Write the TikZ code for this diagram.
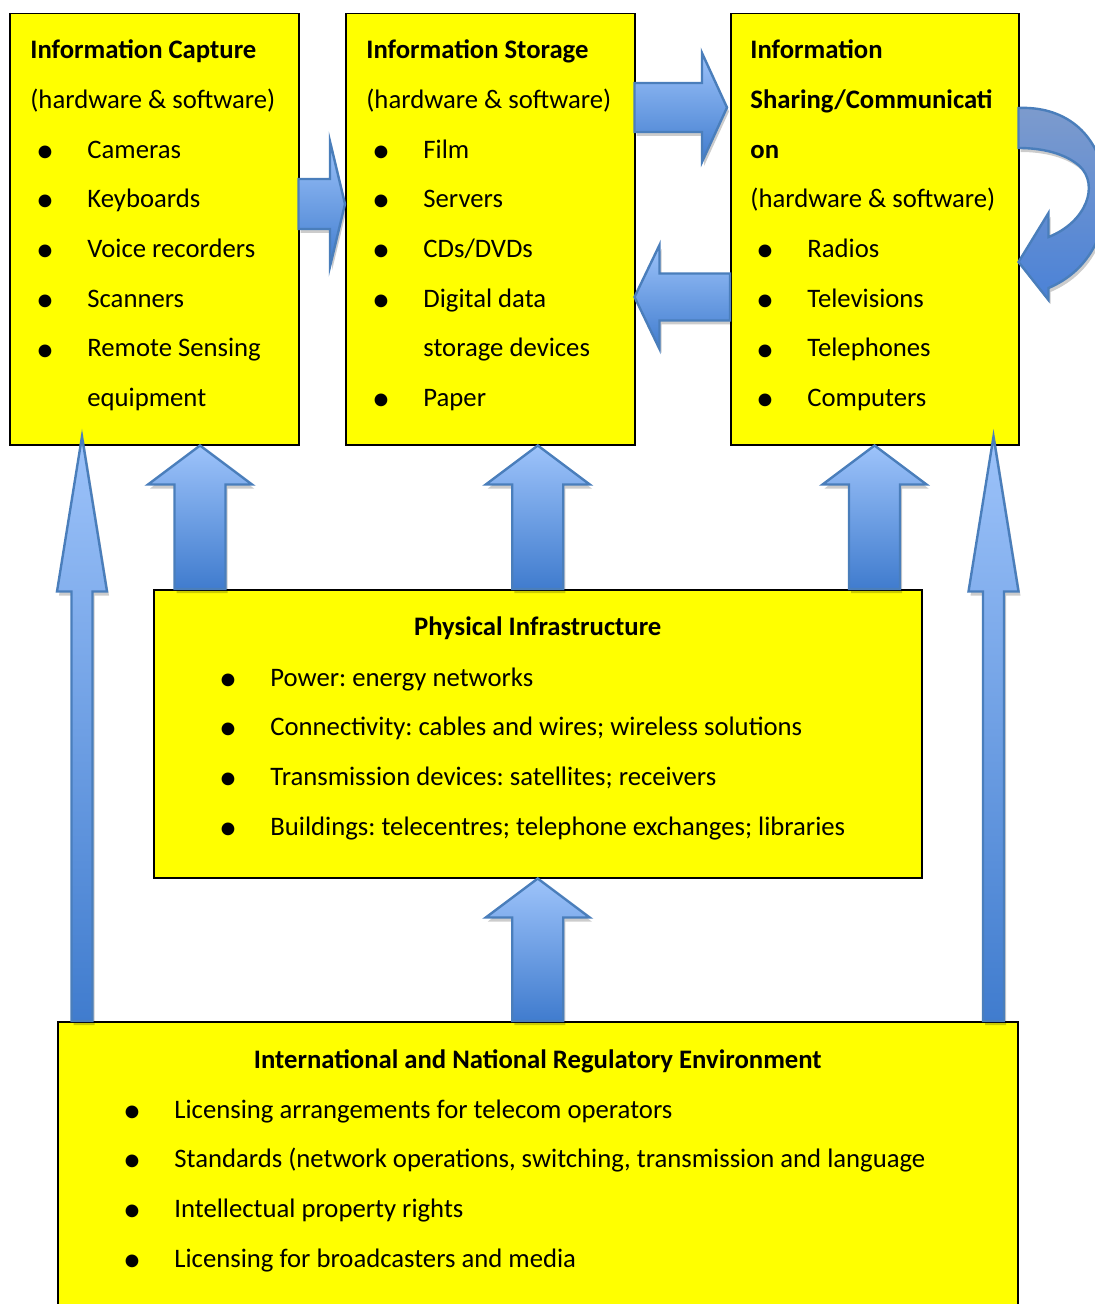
\documentclass[tikz,border=0pt]{standalone}
\usepackage{fontspec}
\setmainfont{Carlito}
\usetikzlibrary{calc,shadows}

\definecolor{boxyellow}{RGB}{255,255,0}
\definecolor{arrowline}{RGB}{74,126,187}
\definecolor{arrowtop}{RGB}{157,195,250}
\definecolor{arrowbottom}{RGB}{64,124,206}
\definecolor{looptop}{RGB}{125,155,205}
\definecolor{loopbottom}{RGB}{75,130,215}

\newcommand{\bul}{\makebox[28.5pt][l]{\hspace{2.8pt}{\fontsize{18}{18}\selectfont\raisebox{-2.1pt}{\textbullet}}}}
\newcommand{\nobul}{\hspace*{28.5pt}}

% block arrow: tip, tail, half shaft, half head, head length
\newcommand{\shapearrow}[5]{%
  \coordinate (hb) at ($(#1)!#5!(#2)$);
  \path[blockarrow] (#1) -- ($(hb)!#4!90:(#1)$) -- ($(hb)!#3!90:(#1)$)
    -- ($(#2)!#3!90:(hb)$) -- ($(#2)!#3!-90:(hb)$)
    -- ($(hb)!#3!-90:(#1)$) -- ($(hb)!#4!-90:(#1)$) -- cycle;}

\begin{document}
\frenchspacing
\begin{tikzpicture}[x=0.5pt,y=-0.5pt,
    infobox/.style={draw, line width=0.75pt, fill=boxyellow, anchor=north west, inner sep=0pt},
    boxtext/.style={anchor=base west, inner sep=0pt, font=\fontsize{13.35}{24.85}\selectfont},
    boxtitle/.style={anchor=base, inner sep=0pt, font=\fontsize{13.35}{24.85}\selectfont\bfseries},
    blockarrow/.style={draw=arrowline, line width=1.2pt, top color=arrowtop, bottom color=arrowbottom,
      drop shadow={shadow xshift=1pt, shadow yshift=-2pt, opacity=0.2, fill=black}}]
    \useasboundingbox (0,0) rectangle (1094,1304);

    % Boxes
    \node[infobox, minimum width=144.5pt, minimum height=215.5pt] (capture) at (9,13) {};
    \node[infobox, minimum width=144.5pt, minimum height=215.5pt] (storage) at (345,13) {};
    \node[infobox, minimum width=144pt, minimum height=215.5pt] (sharing) at (730,13) {};
    \node[infobox, minimum width=384pt, minimum height=144pt] (physical) at (153,589) {};
    \node[infobox, minimum width=480pt, minimum height=150pt] (regulatory) at (57,1021) {};

    % Box texts
    \node[boxtext] (capturetext) at ($(capture.north west)+(21,45.7)$) {\begin{tabular}[t]{@{}l@{}}
      \textbf{Information Capture}\\ (hardware \& software)\\ \bul Cameras\\ \bul Keyboards\\
      \bul Voice recorders\\ \bul Scanners\\ \bul Remote Sensing\\ \nobul equipment\end{tabular}};
    \node[boxtext] (storagetext) at ($(storage.north west)+(21,45.7)$) {\begin{tabular}[t]{@{}l@{}}
      \textbf{Information Storage}\\ (hardware \& software)\\ \bul Film\\ \bul Servers\\
      \bul CDs/DVDs\\ \bul Digital data\\ \nobul storage devices\\ \bul Paper\end{tabular}};
    \node[boxtext] (sharingtext) at ($(sharing.north west)+(20,45.7)$) {\begin{tabular}[t]{@{}l@{}}
      \textbf{Information}\\ \textbf{Sharing/Communicati}\\ \textbf{on}\\ (hardware \& software)\\
      \bul Radios\\ \bul Televisions\\ \bul Telephones\\ \bul Computers\end{tabular}};

    \node[boxtitle] (physicaltitle) at ($(physical.north)+(0,46)$) {Physical Infrastructure};
    \node[boxtext] (physicallist) at ($(physical.north west)+(60,97)$) {\begin{tabular}[t]{@{}l@{}}
      \bul Power: energy networks\\ \bul Connectivity: cables and wires; wireless solutions\\
      \bul Transmission devices: satellites; receivers\\
      \bul Buildings: telecentres; telephone exchanges; libraries\end{tabular}};

    \node[boxtitle] (regulatorytitle) at ($(regulatory.north)+(0,47)$) {International and National Regulatory Environment};
    \node[boxtext] (regulatorylist) at ($(regulatory.north west)+(60,97)$) {\begin{tabular}[t]{@{}l@{}}
      \bul Licensing arrangements for telecom operators\\
      \bul Standards (network operations, switching, transmission and language\\
      \bul Intellectual property rights\\ \bul Licensing for broadcasters and media\end{tabular}};

    % Side arrows between the top boxes
    \coordinate (capright) at ($(capture.north east)+(-1,191)$);
    \coordinate (storleft) at ($(storage.north west)+(0,191)$);
    \coordinate (storright) at ($(storage.north east)+(-1,94.5)$);
    \coordinate (sharleft) at ($(sharing.north west)+(-3,94.5)$);
    \coordinate (storback) at ($(storage.north east)+(-1,284)$);
    \coordinate (sharback) at ($(sharing.north west)+(0,284)$);
    \shapearrow{storleft}{capright}{12.5pt}{31.25pt}{7.5pt}
    \shapearrow{sharleft}{storright}{12.25pt}{27.25pt}{12.5pt}
    \shapearrow{storback}{sharback}{11.75pt}{26pt}{12.5pt}

    % Up arrows from the infrastructure
    \coordinate (physleft) at ($(physical.north west)+(47,0)$);
    \coordinate (physright) at ($(physical.north east)+(-48,0)$);
    \shapearrow{capture.south -| physleft}{physleft}{12.75pt}{26pt}{19.5pt}
    \shapearrow{storage.south -| physical.north}{physical.north}{12.75pt}{26pt}{19.5pt}
    \shapearrow{sharing.south -| physright}{physright}{12.75pt}{26pt}{19.5pt}
    \shapearrow{physical.south}{regulatory.north}{12.75pt}{26pt}{19.5pt}

    % Long arrows from the regulatory box
    \coordinate (regleft) at ($(regulatory.north west)+(25,0)$);
    \coordinate (regright) at ($(regulatory.north east)+(-25,0)$);
    \coordinate (captip) at ($(capture.south -| regleft)+(0,-9)$);
    \coordinate (shartip) at ($(sharing.south -| regright)+(0,-9)$);
    \shapearrow{captip}{regleft}{5.25pt}{12.5pt}{77.5pt}
    \shapearrow{shartip}{regright}{5.25pt}{12.5pt}{77.5pt}

    % Loop arrow on the sharing box
    \begin{scope}[shift={(sharing.north east)}]
      \path[blockarrow, top color=looptop, bottom color=loopbottom]
        (-1,95) .. controls (42,93) and (80,117) .. (86,172)
        .. controls (90,222) and (67,259) .. (29,275) -- (29,287) -- (-1,249) -- (29,200) -- (29,224)
        .. controls (67,209) and (80,172) .. (60,153) .. controls (45,140) and (22,135) .. (-1,135) -- cycle;
    \end{scope}
\end{tikzpicture}
\end{document}
